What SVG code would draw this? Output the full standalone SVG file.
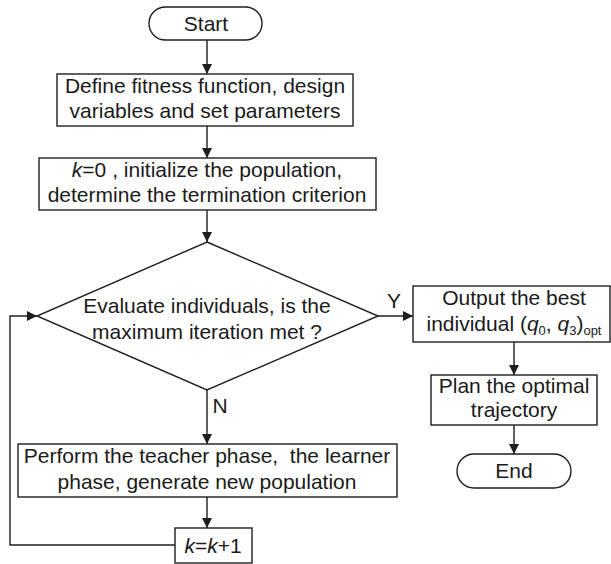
<svg xmlns="http://www.w3.org/2000/svg" width="611" height="564" viewBox="0 0 611 564">
<style>
.s{fill:#fff;stroke:#1e1e1e;stroke-width:1.4}
.t{font-family:"Liberation Sans",Arial,sans-serif;font-size:21px;fill:#1a1a1a;text-anchor:middle}
.c{fill:none;stroke:#1e1e1e;stroke-width:1.4}
.i{font-style:italic}
.sub{font-size:13px}
</style>
<defs>
<marker id="ah" viewBox="0 0 10 10" refX="10" refY="5" markerWidth="10" markerHeight="10" markerUnits="userSpaceOnUse" orient="auto">
<path d="M0,0 L10,5 L0,10 Z" fill="#1e1e1e"/>
</marker>
</defs>
<g id="connectors">
<line class="c" x1="207" y1="40" x2="207" y2="74" marker-end="url(#ah)"/>
<line class="c" x1="207" y1="126" x2="207" y2="158" marker-end="url(#ah)"/>
<line class="c" x1="207" y1="210" x2="207" y2="242" marker-end="url(#ah)"/>
<line class="c" x1="207" y1="390" x2="207" y2="444" marker-end="url(#ah)"/>
<line class="c" x1="207" y1="497" x2="207" y2="528" marker-end="url(#ah)"/>
<polyline class="c" points="175,545 10,545 10,316 37,316" marker-end="url(#ah)"/>
<line class="c" x1="378" y1="316" x2="413" y2="316" marker-end="url(#ah)"/>
<line class="c" x1="514" y1="342" x2="514" y2="375" marker-end="url(#ah)"/>
<line class="c" x1="514" y1="425" x2="514" y2="454" marker-end="url(#ah)"/>
<text class="t" x="394" y="308">Y</text>
<text class="t" x="220" y="413">N</text>
</g>
<g id="start">
<rect class="s" x="149" y="7" width="113" height="33" rx="16.5"/>
<text class="t" x="206" y="31">Start</text>
</g>
<g id="define">
<rect class="s" x="57" y="74" width="296" height="52"/>
<text class="t" x="205" y="93">Define fitness function, design</text>
<text class="t" x="205" y="118">variables and set parameters</text>
</g>
<g id="init">
<rect class="s" x="39" y="158" width="337" height="52"/>
<text class="t" x="207" y="177"><tspan class="i">k</tspan>=0 , initialize the population,</text>
<text class="t" x="207" y="202">determine the termination criterion</text>
</g>
<g id="evaluate">
<polygon class="s" points="207,242 378,316 207,390 37,316"/>
<text class="t" x="207" y="313">Evaluate individuals, is the</text>
<text class="t" x="207" y="339">maximum iteration met ?</text>
</g>
<g id="perform">
<rect class="s" x="18" y="444" width="379" height="53"/>
<text class="t" x="207" y="463" style="white-space:pre">Perform the teacher phase,  the learner</text>
<text class="t" x="207" y="489">phase, generate new population</text>
</g>
<g id="increment">
<rect class="s" x="175" y="528" width="77" height="35"/>
<text class="t" x="213" y="553"><tspan class="i">k</tspan>=<tspan class="i">k</tspan>+1</text>
</g>
<g id="output">
<rect class="s" x="413" y="286" width="197" height="56"/>
<text class="t" x="514" y="305">Output the best</text>
<text class="t" x="514" y="331">individual (<tspan class="i">q</tspan><tspan class="sub" dy="4">0</tspan><tspan dy="-4">, </tspan><tspan class="i">q</tspan><tspan class="sub" dy="4">3</tspan><tspan dy="-4">)</tspan><tspan class="sub" dy="4">opt</tspan></text>
</g>
<g id="plan">
<rect class="s" x="431" y="375" width="166" height="50"/>
<text class="t" x="514" y="393">Plan the optimal</text>
<text class="t" x="514" y="417">trajectory</text>
</g>
<g id="end">
<rect class="s" x="457" y="454" width="114" height="34" rx="17"/>
<text class="t" x="514" y="478">End</text>
</g>
</svg>
